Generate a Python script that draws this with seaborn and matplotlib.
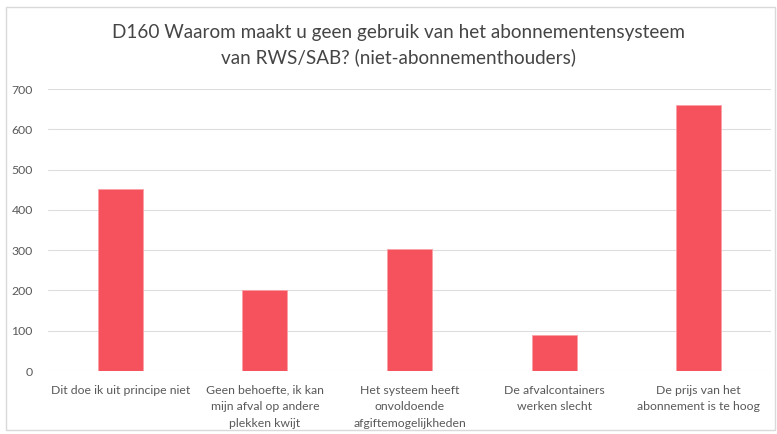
import matplotlib
matplotlib.use("Agg")
import matplotlib.pyplot as plt
import seaborn as sns
import pandas as pd
from matplotlib.patches import Rectangle

categories = [
    "Dit doe ik uit principe niet",
    "Geen behoefte, ik kan\nmijn afval op andere\nplekken kwijt",
    "Het systeem heeft\nonvoldoende\nafgiftemogelijkheden",
    "De afvalcontainers\nwerken slecht",
    "De prijs van het\nabonnement is te hoog",
]
values = [452, 201, 303, 89, 660]
yticks = [0, 100, 200, 300, 400, 500, 600, 700]
title = "D160 Waarom maakt u geen gebruik van het abonnementensysteem\nvan RWS/SAB? (niet-abonnementhouders)"

sns.set_theme(style="white")
plt.rcParams["font.family"] = ["Lato", "DejaVu Sans"]

df = pd.DataFrame({"cat": categories, "val": values})

fig = plt.figure(figsize=(7.77, 4.34), dpi=100)
ax = fig.add_axes([48/777, 1-371/434, (771-48)/777, (371-89)/434])

sns.barplot(data=df, x="cat", y="val", ax=ax, color="#F5525D", width=0.31,
            saturation=1, edgecolor="#F9A0A6", linewidth=0.6, zorder=3)

ax.set_ylim(0, 700)
ax.set_yticks(yticks)
ax.set_yticklabels([str(t) for t in yticks], fontsize=8.8, color="#595959")
ax.set_xlim(-0.5, len(categories) - 0.5)
ax.grid(axis="y", color="#DDDDDD", linewidth=0.8, zorder=0)
ax.set_axisbelow(True)
for s in ax.spines.values():
    s.set_visible(False)
ax.tick_params(axis="y", length=0, pad=11)
ax.tick_params(axis="x", length=0, pad=10)
for lbl in ax.get_xticklabels():
    lbl.set_fontsize(8.8)
    lbl.set_color("#595959")
    lbl.set_linespacing(1.6)
ax.set_xlabel("")
ax.set_ylabel("")

fig.text(398/777, 1-45/434, title, ha="center", va="center", fontsize=13.6,
         color="#454545", linespacing=1.45)

fig.patches.append(Rectangle((6/777, 4/434), 769/777, 423/434, transform=fig.transFigure,
                             fill=False, edgecolor="#D9D9D9", linewidth=1))

fig.savefig("out.png", dpi=100)
